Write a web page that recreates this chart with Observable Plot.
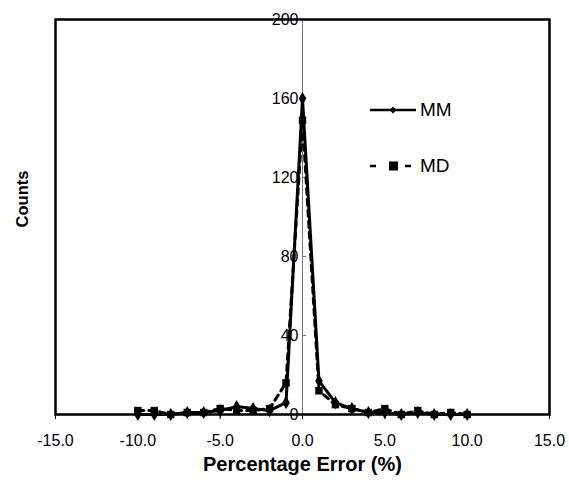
<!DOCTYPE html>
<html>
<head>
<meta charset="utf-8">
<script src="https://cdn.jsdelivr.net/npm/d3@7"></script>
<script src="https://cdn.jsdelivr.net/npm/@observablehq/plot@0.6"></script>
<style>
  html, body { margin: 0; padding: 0; background: #fff; }
  #wrap { position: relative; width: 569px; height: 481px; font-family: "Liberation Sans", Arial, sans-serif; }
  #legend { position: absolute; left: 370px; top: 96px; font-size: 19px; color: #000; }
  .lg { display: flex; align-items: center; height: 28px; margin-bottom: 28px; }
  .lg svg { margin-right: 4px; }
</style>
</head>
<body>
<div id="wrap"></div>
<script>
const errors = [-10,-9,-8,-7,-6,-5,-4,-3,-2,-1,0,1,2,3,4,5,6,7,8,9,10];
const mmCounts = [0,0,0,1,1,2,4,3,2,6,160,17,6,3,1,1,0,1,0,0,0];
const mdCounts = [2,2,0,1,1,3,2,2,3,16,149,12,5,3,1,3,0,2,0,1,0];
const xTicks = [-15,-10,-5,0,5,10,15];
const yTicks = [0,40,80,120,160,200];
const seriesNames = ["MM","MD"];

const mm = errors.map((e,i) => ({x: e, y: mmCounts[i]}));
const md = errors.map((e,i) => ({x: e, y: mdCounts[i]}));

const chart = Plot.plot({
  width: 569,
  height: 481,
  marginLeft: 55,
  marginRight: 20,
  marginTop: 19,
  marginBottom: 67,
  style: {fontFamily: "Liberation Sans, Arial, sans-serif", fontSize: "16px", color: "#000", background: "#fff"},
  x: {domain: [-15, 15]},
  y: {domain: [0, 200], axis: null},
  marks: [
    Plot.ruleX([0], {stroke: "#777", strokeWidth: 1}),
    Plot.ruleY(yTicks, {x1: 0, x2: 0.25, stroke: "#777"}),
    Plot.text(yTicks, {x: 0, y: d => d, text: d => String(d), textAnchor: "end", dx: -4, fontSize: 16, fill: "#000"}),
    Plot.axisX({ticks: xTicks, tickFormat: d => d.toFixed(1), tickSize: 5, tickPadding: 15, fontSize: 16, label: null, stroke: "#000"}),
    Plot.text(["Percentage Error (%)"], {frameAnchor: "bottom", dy: 56, text: d => d, fontSize: 20, fontWeight: "bold", fill: "#000"}),
    Plot.text(["Counts"], {frameAnchor: "left", dx: -33, dy: -18, rotate: -90, textAnchor: "middle", text: d => d, fontSize: 16.5, fontWeight: "bold", fill: "#000"}),
    Plot.line(md, {x: "x", y: "y", stroke: "#000", strokeWidth: 3, strokeDasharray: "6,5"}),
    Plot.line(mm, {x: "x", y: "y", stroke: "#000", strokeWidth: 3}),
    Plot.dot(md, {x: "x", y: "y", symbol: "square", r: 4.2, fill: "#000", stroke: "none"}),
    Plot.dot(mm, {x: "x", y: "y", symbol: "diamond", r: 4, fill: "#000", stroke: "none"}),
    Plot.frame({stroke: "#000", strokeWidth: 2.5})
  ]
});
document.getElementById("wrap").appendChild(chart);

const legend = document.createElement("div");
legend.id = "legend";
legend.innerHTML = `
  <div class="lg"><svg width="46" height="14"><line x1="0" y1="7" x2="46" y2="7" stroke="#000" stroke-width="2.5"/><path d="M23,3.5 L26.5,7 L23,10.5 L19.5,7 Z" fill="#000"/></svg><span>${seriesNames[0]}</span></div>
  <div class="lg"><svg width="46" height="14"><line x1="0" y1="7" x2="6" y2="7" stroke="#000" stroke-width="2.5"/><rect x="19" y="2.5" width="9" height="9" fill="#000"/><line x1="35" y1="7" x2="41" y2="7" stroke="#000" stroke-width="2.5"/></svg><span>${seriesNames[1]}</span></div>`;
document.getElementById("wrap").appendChild(legend);
</script>
</body>
</html>
